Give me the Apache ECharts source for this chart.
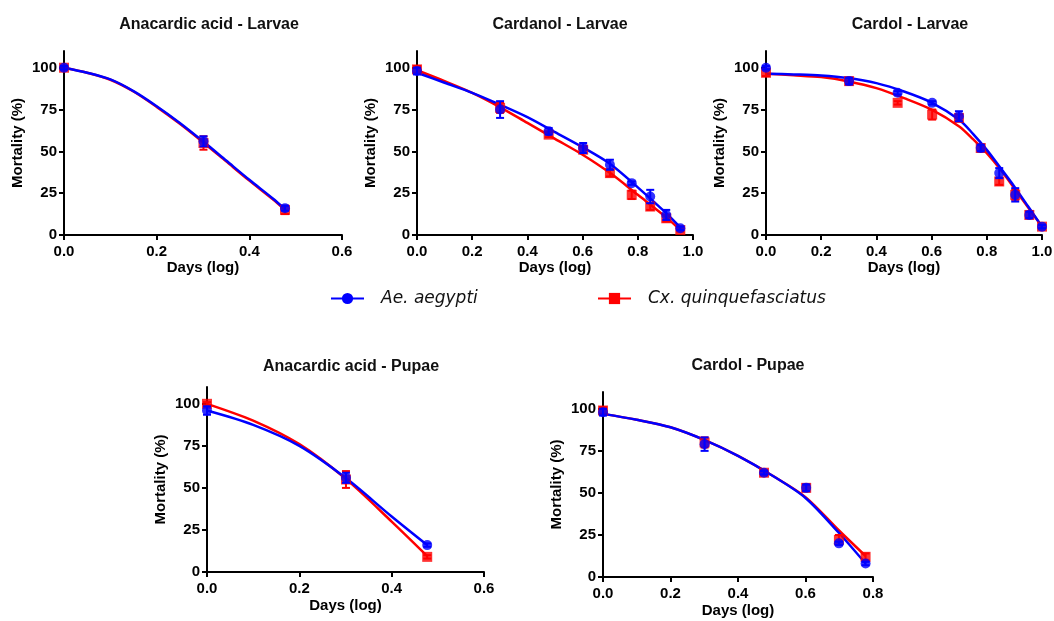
<!DOCTYPE html>
<html>
<head>
<meta charset="utf-8">
<script src="https://cdn.jsdelivr.net/npm/echarts@6/dist/echarts.min.js"></script>
<style>
  html, body { margin: 0; padding: 0; background: #fff; }
  #main { width: 1054px; height: 621px; }
</style>
</head>
<body>
<div id="main"></div>
<script>
// log10 of days 1..10
var daysLog = [0, 0.301, 0.477, 0.602, 0.699, 0.778, 0.845, 0.903, 0.954, 1.0];
var speciesNames = ['Ae. aegypti', 'Cx. quinquefasciatus'];
var panelTitles = ['Anacardic acid - Larvae', 'Cardanol - Larvae', 'Cardol - Larvae',
                   'Anacardic acid - Pupae', 'Cardol - Pupae'];
var xMax = [0.6, 1.0, 1.0, 0.6, 0.8];

var aeAnaLarvae = [100, 56, 16],      aeAnaLarvaeErr = [1, 3, 1.5];
var cxAnaLarvae = [100, 55, 15],      cxAnaLarvaeErr = [1, 4, 2.5];
var aeCarLarvae = [98, 75, 62, 52, 42, 31, 23, 12, 4],  aeCarLarvaeErr = [2, 5, 2, 3, 3, 1, 4, 3, 1];
var cxCarLarvae = [99, 76, 60, 51, 37, 24, 17, 10, 3],  cxCarLarvaeErr = [2, 3, 1.5, 2, 2, 2.5, 2, 2, 1];
var aeCdlLarvae = [100, 92, 85, 79, 71, 52, 37, 24, 12, 5], aeCdlLarvaeErr = [1, 2, 1, 1, 3, 2, 3, 4, 2, 1];
var cxCdlLarvae = [97, 92, 79, 72, 70, 52, 32, 24, 12, 5],  cxCdlLarvaeErr = [2, 2, 1, 3, 2, 2, 2, 3, 2, 1];
var aeAnaPupae = [96, 56, 16],        aeAnaPupaeErr = [2.5, 3, 1];
var cxAnaPupae = [100, 55, 9],        cxAnaPupaeErr = [1, 5, 1];
var aeCdlPupae = [98, 79, 62, 53, 20, 8],  aeCdlPupaeErr = [2, 4, 1, 2, 1, 1];
var cxCdlPupae = [99, 80, 62, 53, 22, 12], cxCdlPupaeErr = [2, 3, 1.5, 2, 3, 2];

// fitted curves
var fitXAnaLarvae = [0, 0.05, 0.1, 0.15, 0.2, 0.25, 0.3, 0.35, 0.4, 0.45, 0.477];
var fitXCar = [0, 0.1, 0.2, 0.3, 0.4, 0.5, 0.6, 0.7, 0.8, 0.9, 0.954];
var fitXCdl = [0, 0.1, 0.2, 0.3, 0.4, 0.5, 0.6, 0.7, 0.75, 0.8, 0.85, 0.9, 0.95, 1.0];
var fitXAnaPupae = [0, 0.1, 0.2, 0.3, 0.4, 0.477];
var fitXCdlPupae = [0, 0.1, 0.2, 0.3, 0.4, 0.5, 0.6, 0.7, 0.778];
var aeAnaLarvaeFit = [100, 97, 93, 86, 77, 67, 56, 44.5, 33, 22, 15.5];
var cxAnaLarvaeFit = [100, 97, 92.8, 85.8, 76.6, 66.5, 55.5, 44, 32.5, 21.5, 15];
var aeCarLarvaeFit = [97, 91, 85, 78, 70.5, 61.5, 52.5, 42.5, 28.5, 13.5, 4.5];
var cxCarLarvaeFit = [98.5, 92, 85, 76.5, 67, 57.5, 48, 37, 24, 11, 3];
var aeCdlLarvaeFit = [96.4, 96, 95.4, 93.8, 90.8, 85.8, 79.2, 68.9, 60.5, 50.9, 40, 28.9, 17, 5];
var cxCdlLarvaeFit = [96.4, 95.5, 94.4, 91.8, 87.8, 81.8, 74.9, 64.9, 57.3, 48.9, 39, 27.9, 16.4, 5];
var aeAnaPupaeFit = [96, 87.5, 75, 56, 33, 16];
var cxAnaPupaeFit = [100, 90, 76, 55.5, 30, 9.5];
var aeCdlPupaeFit = [97, 93.5, 89, 81.5, 72, 60.5, 47, 26, 8];
var cxCdlPupaeFit = [97, 93.5, 89, 81.5, 72, 60.5, 47.5, 27.5, 12.5];

var panels = [
  {fitX: fitXAnaLarvae, ae: aeAnaLarvae, aeErr: aeAnaLarvaeErr, cx: cxAnaLarvae, cxErr: cxAnaLarvaeErr, aeFit: aeAnaLarvaeFit, cxFit: cxAnaLarvaeFit},
  {fitX: fitXCar, ae: aeCarLarvae, aeErr: aeCarLarvaeErr, cx: cxCarLarvae, cxErr: cxCarLarvaeErr, aeFit: aeCarLarvaeFit, cxFit: cxCarLarvaeFit},
  {fitX: fitXCdl, ae: aeCdlLarvae, aeErr: aeCdlLarvaeErr, cx: cxCdlLarvae, cxErr: cxCdlLarvaeErr, aeFit: aeCdlLarvaeFit, cxFit: cxCdlLarvaeFit},
  {fitX: fitXAnaPupae, ae: aeAnaPupae, aeErr: aeAnaPupaeErr, cx: cxAnaPupae, cxErr: cxAnaPupaeErr, aeFit: aeAnaPupaeFit, cxFit: cxAnaPupaeFit},
  {fitX: fitXCdlPupae, ae: aeCdlPupae, aeErr: aeCdlPupaeErr, cx: cxCdlPupae, cxErr: cxCdlPupaeErr, aeFit: aeCdlPupaeFit, cxFit: cxCdlPupaeFit}
];

var BLUE = '#0000ff', RED = '#ff0000';
var FONT = 'Liberation Sans, Arial, sans-serif';

var grids = [
  {left: 64,  top: 51,  width: 278, height: 184},
  {left: 417, top: 51,  width: 276, height: 184},
  {left: 766, top: 51,  width: 276, height: 184},
  {left: 207, top: 387, width: 277, height: 185},
  {left: 603, top: 392, width: 270, height: 185}
];
var titleCenters = [[204, 12], [555, 12], [905, 12], [346, 354], [743, 353]];
var xNameGap = [20, 20, 20, 26, 26];

function pairs(xs, ys) {
  return ys.map(function (y, i) { return [xs[i], y]; });
}

function errBars(color, xs, ys, errs, idx, z) {
  return {
    type: 'custom', xAxisIndex: idx, yAxisIndex: idx, z: z, silent: true,
    data: ys.map(function (y, i) { return [xs[i], y - errs[i], y + errs[i]]; }),
    renderItem: function (params, api) {
      var lo = api.coord([api.value(0), api.value(1)]);
      var hi = api.coord([api.value(0), api.value(2)]);
      var hw = 4, st = {stroke: color, lineWidth: 2};
      return {type: 'group', children: [
        {type: 'line', shape: {x1: lo[0], y1: lo[1], x2: hi[0], y2: hi[1]}, style: st},
        {type: 'line', shape: {x1: lo[0] - hw, y1: lo[1], x2: lo[0] + hw, y2: lo[1]}, style: st},
        {type: 'line', shape: {x1: hi[0] - hw, y1: hi[1], x2: hi[0] + hw, y2: hi[1]}, style: st}
      ]};
    }
  };
}

var lineSeries = [], markSeries = [];
panels.forEach(function (p, i) {
  var xs = daysLog.slice(0, p.ae.length);
  lineSeries.push({
    name: speciesNames[0], type: 'line', xAxisIndex: i, yAxisIndex: i, z: 4,
    data: pairs(p.fitX, p.aeFit), smooth: 0.3, showSymbol: false, symbol: 'circle',
    lineStyle: {color: BLUE, width: 2.5}, itemStyle: {color: BLUE}, silent: true
  });
  lineSeries.unshift({
    name: speciesNames[1], type: 'line', xAxisIndex: i, yAxisIndex: i, z: 3,
    data: pairs(p.fitX, p.cxFit), smooth: 0.3, showSymbol: false, symbol: 'rect',
    lineStyle: {color: RED, width: 2.5}, itemStyle: {color: RED}, silent: true
  });
  markSeries.push(errBars(RED, xs, p.cx, p.cxErr, i, 5));
  markSeries.push({
    name: speciesNames[1], type: 'scatter', xAxisIndex: i, yAxisIndex: i, z: 6,
    data: pairs(xs, p.cx), symbol: 'rect', symbolSize: 10, itemStyle: {color: RED}, silent: true
  });
  markSeries.push(errBars(BLUE, xs, p.ae, p.aeErr, i, 7));
  markSeries.push({
    name: speciesNames[0], type: 'scatter', xAxisIndex: i, yAxisIndex: i, z: 8,
    data: pairs(xs, p.ae), symbol: 'circle', symbolSize: 10, itemStyle: {color: BLUE}, silent: true
  });
});

var axisLineStyle = {show: true, lineStyle: {color: '#000', width: 2}};
var tickStyle = {show: true, inside: false, length: 5, lineStyle: {color: '#000', width: 2}};
var labelFont = {color: '#000', fontFamily: FONT, fontWeight: 'bold', fontSize: 15};
var legendText = {fontFamily: 'DejaVu Sans', fontStyle: 'italic', fontSize: 17, color: '#111', padding: [0, 0, 0, 12]};

var option = {
  animation: false,
  backgroundColor: '#fff',
  title: panelTitles.map(function (t, i) {
    return {
      text: t, left: titleCenters[i][0], top: titleCenters[i][1], textAlign: 'center',
      textStyle: {fontFamily: FONT, fontWeight: 'bold', fontSize: 16, color: '#111'}
    };
  }),
  legend: [
    {data: [speciesNames[0]], left: 330, top: 290, padding: 0, itemWidth: 33, itemHeight: 14,
     selectedMode: false, textStyle: legendText},
    {data: [speciesNames[1]], left: 597, top: 290, padding: 0, itemWidth: 33, itemHeight: 14,
     selectedMode: false, textStyle: legendText}
  ],
  grid: grids.map(function (g) {
    return {left: g.left, top: g.top, width: g.width, height: g.height, containLabel: false, outerBoundsMode: 'none'};
  }),
  xAxis: grids.map(function (g, i) {
    return {
      type: 'value', gridIndex: i, min: 0, max: xMax[i], interval: 0.2,
      name: 'Days (log)', nameLocation: 'middle', nameGap: xNameGap[i],
      nameTextStyle: labelFont,
      axisLine: axisLineStyle, axisTick: tickStyle, splitLine: {show: false},
      axisLabel: Object.assign({margin: 9, formatter: function (v) { return v.toFixed(1); }}, labelFont)
    };
  }),
  yAxis: grids.map(function (g, i) {
    return {
      type: 'value', gridIndex: i, min: 0, max: 110,
      name: 'Mortality (%)', nameLocation: 'middle', nameGap: 39, nameRotate: 90,
      nameTextStyle: labelFont,
      axisLine: axisLineStyle,
      axisTick: Object.assign({customValues: [0, 25, 50, 75, 100]}, tickStyle),
      splitLine: {show: false},
      axisLabel: Object.assign({margin: 7, customValues: [0, 25, 50, 75, 100]}, labelFont)
    };
  }),
  series: lineSeries.concat(markSeries)
};

var myChart = echarts.init(document.getElementById('main'));
myChart.setOption(option);
</script>
</body>
</html>
